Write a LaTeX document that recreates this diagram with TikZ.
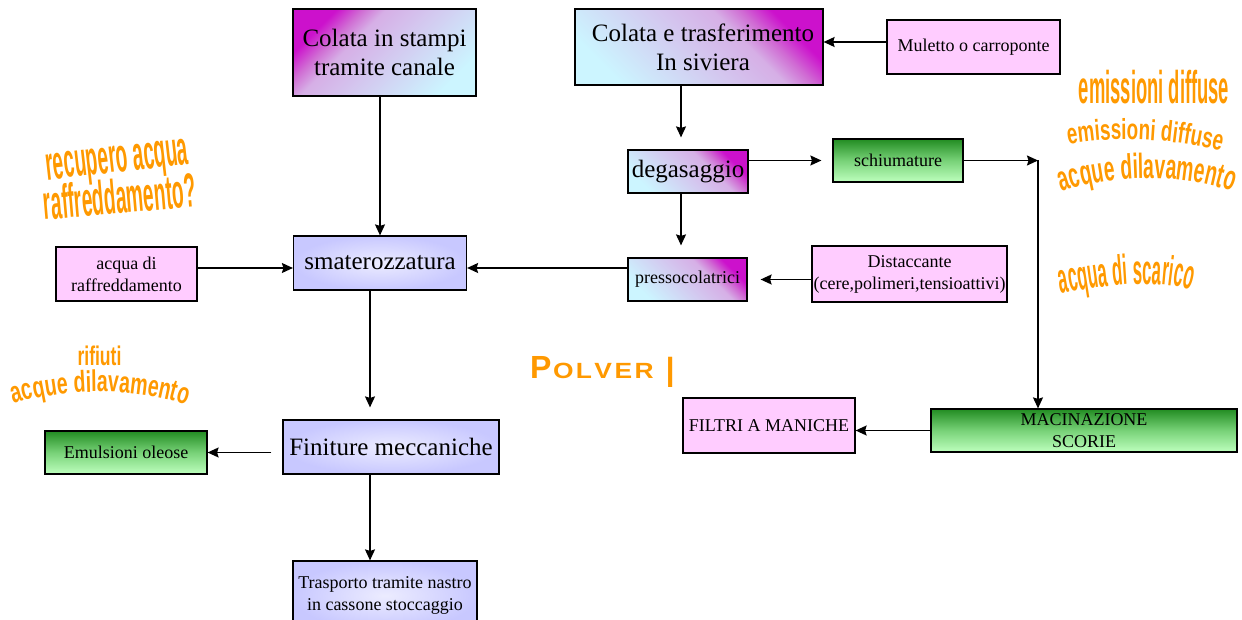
\documentclass[tikz,border=0pt]{standalone}
\usepackage{fontspec}
\setmainfont{Liberation Serif}
\newfontfamily\wfa{Liberation Sans}[FakeStretch=0.40]
\newfontfamily\wfb{Liberation Sans}[FakeStretch=0.50]
\newfontfamily\wfd{Liberation Sans}[FakeStretch=0.55]
\newfontfamily\wfc{Liberation Sans}[FakeStretch=0.65]
\newfontfamily\polfont{Liberation Sans}
\usetikzlibrary{arrows.meta,decorations.text,calc}
\definecolor{mag}{RGB}{204,17,204}
\definecolor{magl}{RGB}{208,110,212}
\definecolor{lavp}{RGB}{214,175,230}
\definecolor{lav}{RGB}{212,196,238}
\definecolor{lcy}{RGB}{204,245,255}
\definecolor{lvo}{RGB}{200,200,255}
\definecolor{lvi}{RGB}{236,236,255}
\definecolor{gdk}{RGB}{34,140,34}
\definecolor{gmd}{RGB}{120,210,120}
\definecolor{glt}{RGB}{190,255,190}
\definecolor{pnk}{RGB}{255,204,255}
\definecolor{wacol}{RGB}{255,153,0}
\pgfdeclareverticalshading{mcsh}{100bp}{color(0bp)=(lcy); color(25bp)=(lcy); color(50bp)=(lav); color(61bp)=(lavp); color(67bp)=(magl); color(74bp)=(mag); color(100bp)=(mag)}
\tikzset{
  box/.style={draw=black, line width=1.2pt, inner sep=0pt, align=center, text=black},
  big/.style={font=\fontsize{25}{29}\selectfont},
  small/.style={font=\fontsize{18}{22}\selectfont},
  mcbox/.style={box, shade, shading=mcsh, shading angle=#1},
  lvbox/.style={box, inner color=lvi, outer color=lvo},
  grbox/.style={box, top color=gdk, bottom color=glt, middle color=gmd},
  pkbox/.style={box, fill=pnk},
  arr/.style={line width=1.5pt, -{Stealth[length=11pt,width=10pt,inset=1.5pt]}},
  watext/.style={text=wacol, inner sep=0pt},
  wapath/.style={decorate, decoration={text along path, text align=center, text color=wacol, text={#1}}}
}
\begin{document}
\begin{tikzpicture}[x=1pt,y=1pt]
\useasboundingbox (0,0) rectangle (1242,-620);
% boxes
\node[mcbox=45, big, minimum width=183pt, minimum height=87pt] (c1) at (384.5,-52.5) {Colata in stampi\\tramite canale};
\node[mcbox=-45, big, minimum width=248pt, minimum height=76pt] (c2) at (699,-47) {\hspace*{8pt}Colata e trasferimento\\\hspace*{8pt}In siviera};
\node[pkbox, small, minimum width=173pt, minimum height=54pt] (mul) at (973.5,-47) {Muletto o carroponte};
\node[mcbox=-45, big, minimum width=120pt, minimum height=43pt] (deg) at (688,-171.5) {degasaggio};
\node[grbox, small, minimum width=130pt, minimum height=43pt] (sch) at (898,-160.5) {schiumature};
\node[mcbox=-45, small, minimum width=119pt, minimum height=43pt] (pre) at (687.5,-279.5) {pressocolatrici};
\node[pkbox, small, minimum width=195pt, minimum height=56pt] (dis) at (909.5,-274) {Distaccante\\(cere,polimeri,tensioattivi)};
\node[lvbox, big, minimum width=173pt, minimum height=54pt] (sma) at (380,-263) {smaterozzatura};
\node[pkbox, small, minimum width=141pt, minimum height=54pt] (acq) at (126.5,-274) {acqua di\\raffreddamento};
\node[lvbox, big, minimum width=216pt, minimum height=54pt] (fin) at (391,-447) {Finiture meccaniche};
\node[grbox, small, minimum width=162pt, minimum height=43pt] (emu) at (126,-452.5) {Emulsioni oleose};
\node[lvbox, small, minimum width=184pt, minimum height=69pt] (tra) at (385,-595.5) {Trasporto tramite nastro\\in cassone stoccaggio};
\node[pkbox, small, minimum width=172pt, minimum height=55pt] (fil) at (769,-425.5) {FILTRI A MANICHE};
\node[grbox, small, minimum width=306pt, minimum height=43pt] (mac) at (1084,-430.5) {MACINAZIONE\\SCORIE};
% connectors
\draw[arr] (c1.south -| sma.north) -- (sma.north);
\draw[arr] ([yshift=5pt]mul.west) -- ([yshift=5pt]mul.west -| c2.east);
\coordinate (dx) at ([xshift=-7pt]deg.north);
\draw[arr, shorten >=12pt] (dx |- c2.south) -- (dx);
\coordinate (dx2) at ([xshift=-7pt]deg.south);
\draw[arr, shorten >=12pt] (dx2) -- (dx2 |- pre.north);
\draw[arr, shorten >=11pt] (deg.east |- sch.west) -- (sch.west);
\coordinate (k) at (1038,-160.5);
\draw[arr] (sch.east) -- (k);
\draw[arr] (k) -- (k |- mac.north);
\coordinate (py) at ([yshift=11.5pt]pre.west);
\draw[arr] (py) -- (py -| sma.east);
\draw[arr, shorten >=13pt] (dis.west |- pre.east) -- (pre.east);
\coordinate (ay) at ([yshift=6pt]acq.east);
\draw[arr] (ay) -- (ay -| sma.west);
\coordinate (sx) at ([xshift=-10pt]sma.south);
\draw[arr, shorten >=12pt] (sx) -- (sx |- fin.north);
\draw[arr, shorten <=11pt] (fin.west |- emu.east) -- (emu.east);
\draw[arr] (sx |- fin.south) -- (sx |- tra.north);
\draw[arr] (mac.west) -- (mac.west -| fil.east);
% orange word-art texts
\node[watext, anchor=base] (e1) at (1154,-104) {\wfa\bfseries\fontsize{46}{46}\selectfont emissioni diffuse};
\path[wapath={|\wfc\bfseries\fontsize{29}{29}\selectfont|emissioni diffuse}] (1052,-148) .. controls (1110,-134) and (1180,-138) .. (1237,-156);
\path[wapath={|\wfd\bfseries\fontsize{35}{35}\selectfont|acque dilavamento}] (1047,-198) .. controls (1100,-172) and (1195,-172) .. (1247,-198);
\path[wapath={|\wfa\bfseries\fontsize{42}{42}\selectfont|acqua di scarico}] (1047,-296) .. controls (1100,-286) and (1160,-276) .. (1205,-294);
\path[wapath={|\wfa\bfseries\fontsize{48}{48}\selectfont|recupero acqua}] (30,-182) -- (207,-162);
\path[wapath={|\wfa\bfseries\fontsize{48}{48}\selectfont|raffreddamento?}] (30,-221) -- (212,-205.5);
\node[watext, anchor=base] (r1) at (99.5,-365) {\wfc\bfseries\fontsize{27}{27}\selectfont rifiuti};
\path[wapath={|\wfc\bfseries\fontsize{30}{30}\selectfont|acque dilavamento}] (0,-409) .. controls (55,-386) and (145,-386) .. (200,-410);
\node[watext, anchor=base west] (pol) at (530,-378) {\polfont\bfseries{\fontsize{32}{32}\selectfont P}\kern1.5pt\scalebox{1.2}[1]{\fontsize{22}{22}\selectfont O\kern2pt L\kern2pt V\kern2pt E\kern2pt R}\kern11pt\raisebox{-9pt}{\mdseries\fontsize{44}{44}\selectfont I}};
\end{tikzpicture}
\end{document}
